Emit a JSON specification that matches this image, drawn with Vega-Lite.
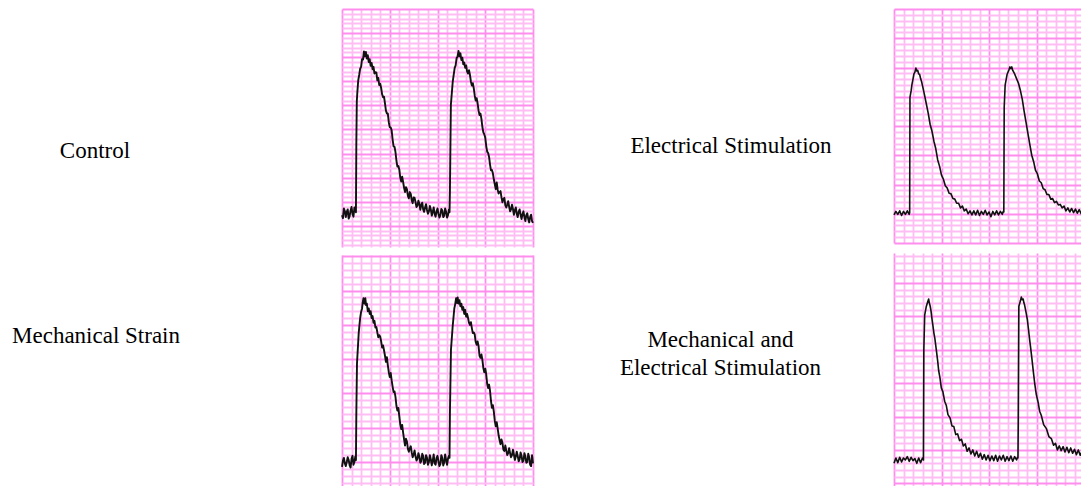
{
"$schema": "https://vega.github.io/schema/vega-lite/v6.json",
"padding": {"left": 0, "top": 9, "right": 0, "bottom": 0},
"background": "white",
"spacing": 0,
"config": {"view": {"stroke": null}},
"datasets": {
"control": [
{"t":0.0,"f":7.2},{"t":0.2,"f":8.6},{"t":0.4,"f":6.8},{"t":0.6,"f":8.4},{"t":0.8,"f":7.0},{"t":1.0,"f":8.9},{"t":1.2,"f":6.9},{"t":1.4,"f":8.3},{"t":1.46,"f":7.8},{"t":1.5,"f":22.0},{"t":1.55,"f":30.8},{"t":1.6,"f":32.5},{"t":1.7,"f":35.2},{"t":1.8,"f":36.3},{"t":1.9,"f":37.6},{"t":2.0,"f":38.0},{"t":2.1,"f":39.6},{"t":2.2,"f":39.5},{"t":2.3,"f":41.2},{"t":2.4,"f":40.2},{"t":2.5,"f":41.1},{"t":2.6,"f":39.7},{"t":2.7,"f":40.4},{"t":2.8,"f":39.0},{"t":2.9,"f":39.6},{"t":3.0,"f":38.2},{"t":3.1,"f":38.8},{"t":3.2,"f":37.5},{"t":3.3,"f":38.0},{"t":3.4,"f":36.6},{"t":3.6,"f":36.8},{"t":3.7,"f":35.2},{"t":3.8,"f":35.7},{"t":3.9,"f":34.2},{"t":4.0,"f":34.5},{"t":4.2,"f":32.3},{"t":4.4,"f":31.8},{"t":4.6,"f":28.9},{"t":4.8,"f":28.3},{"t":5.0,"f":25.5},{"t":5.2,"f":24.8},{"t":5.4,"f":21.5},{"t":5.6,"f":20.3},{"t":5.8,"f":17.3},{"t":6.0,"f":16.7},{"t":6.2,"f":14.2},{"t":6.4,"f":14.1},{"t":6.6,"f":12.0},{"t":6.8,"f":12.6},{"t":7.0,"f":10.7},{"t":7.2,"f":11.6},{"t":7.4,"f":9.7},{"t":7.6,"f":10.8},{"t":7.8,"f":8.9},{"t":8.0,"f":10.2},{"t":8.2,"f":8.3},{"t":8.4,"f":9.8},{"t":8.6,"f":7.9},{"t":8.8,"f":9.5},{"t":9.0,"f":7.5},{"t":9.2,"f":9.1},{"t":9.4,"f":7.1},{"t":9.6,"f":8.8},{"t":9.8,"f":6.9},{"t":10.0,"f":8.6},{"t":10.2,"f":6.7},{"t":10.4,"f":8.5},{"t":10.6,"f":6.8},{"t":10.8,"f":8.6},{"t":11.0,"f":6.7},{"t":11.2,"f":8.4},{"t":11.26,"f":7.8},{"t":11.3,"f":12.0},{"t":11.4,"f":30.1},{"t":11.6,"f":35.0},{"t":11.8,"f":37.8},{"t":11.9,"f":38.3},{"t":12.0,"f":39.8},{"t":12.1,"f":40.1},{"t":12.2,"f":41.3},{"t":12.3,"f":40.2},{"t":12.4,"f":40.8},{"t":12.5,"f":39.4},{"t":12.6,"f":39.9},{"t":12.7,"f":38.5},{"t":12.8,"f":38.9},{"t":12.9,"f":37.8},{"t":13.0,"f":38.3},{"t":13.2,"f":36.6},{"t":13.4,"f":36.3},{"t":13.6,"f":34.1},{"t":13.8,"f":33.5},{"t":14.0,"f":31.0},{"t":14.2,"f":30.4},{"t":14.4,"f":28.0},{"t":14.6,"f":27.2},{"t":14.8,"f":24.4},{"t":15.0,"f":23.3},{"t":15.2,"f":20.4},{"t":15.4,"f":19.3},{"t":15.6,"f":16.5},{"t":15.8,"f":15.9},{"t":16.0,"f":13.6},{"t":16.2,"f":14.0},{"t":16.4,"f":11.7},{"t":16.6,"f":12.2},{"t":16.8,"f":9.9},{"t":17.0,"f":10.8},{"t":17.2,"f":8.8},{"t":17.4,"f":10.1},{"t":17.6,"f":8.0},{"t":17.8,"f":9.4},{"t":18.0,"f":7.3},{"t":18.2,"f":8.8},{"t":18.4,"f":6.8},{"t":18.6,"f":8.4},{"t":18.8,"f":6.4},{"t":19.0,"f":8.0},{"t":19.2,"f":6.0},{"t":19.4,"f":7.6},{"t":19.6,"f":5.7},{"t":19.8,"f":7.3},{"t":20.0,"f":5.6},
{"t":0.1,"f":6.6},{"t":0.3,"f":8.0},{"t":0.5,"f":7.9},{"t":0.7,"f":6.5},{"t":0.9,"f":8.2},{"t":1.1,"f":7.4},{"t":1.3,"f":8.8},
{"t":3.5,"f":36.9},{"t":4.1,"f":33.6},{"t":4.3,"f":31.7},{"t":4.5,"f":30.4},{"t":4.7,"f":28.3},{"t":4.9,"f":26.5},{"t":5.1,"f":25.4},{"t":5.3,"f":22.9},{"t":5.5,"f":21.4},{"t":5.7,"f":18.5},{"t":5.9,"f":17.4},
{"t":6.1,"f":15.0},{"t":6.3,"f":15.2},{"t":6.5,"f":12.9},{"t":6.7,"f":13.0},{"t":6.9,"f":11.2},{"t":7.1,"f":12.0},{"t":7.3,"f":10.3},{"t":7.5,"f":10.9},{"t":7.7,"f":9.9},{"t":7.9,"f":9.2},{"t":8.1,"f":9.6},{"t":8.3,"f":9.3},{"t":8.5,"f":8.4},{"t":8.7,"f":8.8},{"t":8.9,"f":8.3},{"t":9.1,"f":8.0},{"t":9.3,"f":8.4},{"t":9.5,"f":7.9},{"t":9.7,"f":7.4},{"t":9.9,"f":8.0},{"t":10.1,"f":7.5},{"t":10.3,"f":7.2},{"t":10.5,"f":8.2},{"t":10.7,"f":7.1},{"t":10.9,"f":7.9},{"t":11.1,"f":7.2},
{"t":13.1,"f":37.0},{"t":13.3,"f":37.3},{"t":13.5,"f":34.9},{"t":13.7,"f":34.6},{"t":13.9,"f":32.0},{"t":14.1,"f":31.5},{"t":14.3,"f":28.9},{"t":14.5,"f":28.3},{"t":14.7,"f":25.5},{"t":14.9,"f":24.0},{"t":15.1,"f":21.6},{"t":15.3,"f":20.1},{"t":15.5,"f":17.7},{"t":15.7,"f":16.6},{"t":15.9,"f":14.6},
{"t":16.1,"f":12.6},{"t":16.3,"f":12.5},{"t":16.5,"f":12.0},{"t":16.7,"f":10.9},{"t":16.9,"f":10.6},{"t":17.1,"f":9.3},{"t":17.3,"f":9.4},{"t":17.5,"f":9.0},{"t":17.7,"f":8.4},{"t":17.9,"f":8.5},{"t":18.1,"f":8.2},{"t":18.3,"f":7.5},{"t":18.5,"f":7.9},{"t":18.7,"f":7.3},{"t":18.9,"f":7.4},{"t":19.1,"f":6.8},{"t":19.3,"f":7.2},{"t":19.5,"f":6.4},{"t":19.7,"f":6.8},{"t":19.9,"f":6.0}
],
"electrical": [
{"t":0.0,"f":4.8},{"t":0.2,"f":5.4},{"t":0.4,"f":4.9},{"t":0.6,"f":5.5},{"t":0.8,"f":4.7},{"t":1.0,"f":5.4},{"t":1.2,"f":4.9},{"t":1.4,"f":5.5},{"t":1.6,"f":4.9},{"t":1.65,"f":5.2},{"t":1.68,"f":24.9},{"t":1.8,"f":26.0},{"t":1.9,"f":27.2},{"t":2.0,"f":28.0},{"t":2.1,"f":28.9},{"t":2.2,"f":29.2},{"t":2.3,"f":29.9},{"t":2.4,"f":29.4},{"t":2.5,"f":29.5},{"t":2.6,"f":28.9},{"t":2.7,"f":28.8},{"t":2.8,"f":28.1},{"t":2.9,"f":27.6},{"t":3.0,"f":26.9},{"t":3.2,"f":25.4},{"t":3.4,"f":23.8},{"t":3.6,"f":22.2},{"t":3.8,"f":20.3},{"t":4.0,"f":19.1},{"t":4.2,"f":17.4},{"t":4.4,"f":16.1},{"t":4.6,"f":14.2},{"t":4.8,"f":13.1},{"t":5.0,"f":11.6},{"t":5.2,"f":10.9},{"t":5.4,"f":9.8},{"t":5.6,"f":9.4},{"t":5.8,"f":8.5},{"t":6.0,"f":8.4},{"t":6.2,"f":7.6},{"t":6.4,"f":7.5},{"t":6.6,"f":6.8},{"t":6.8,"f":6.8},{"t":7.0,"f":6.0},{"t":7.2,"f":6.3},{"t":7.4,"f":5.5},{"t":7.6,"f":5.8},{"t":7.8,"f":5.0},{"t":8.0,"f":5.5},{"t":8.2,"f":4.8},{"t":8.4,"f":5.5},{"t":8.6,"f":4.8},{"t":8.8,"f":5.6},{"t":9.0,"f":4.7},{"t":9.2,"f":5.4},{"t":9.4,"f":4.9},{"t":9.6,"f":5.6},{"t":9.8,"f":4.8},{"t":10.0,"f":5.3},{"t":10.2,"f":4.5},{"t":10.4,"f":5.4},{"t":10.6,"f":4.8},{"t":10.8,"f":5.5},{"t":11.0,"f":4.8},{"t":11.2,"f":5.4},{"t":11.4,"f":4.9},{"t":11.5,"f":5.4},{"t":11.56,"f":5.3},{"t":11.6,"f":23.2},{"t":11.7,"f":27.0},{"t":11.9,"f":28.8},{"t":12.1,"f":29.6},{"t":12.2,"f":30.1},{"t":12.3,"f":29.8},{"t":12.4,"f":30.1},{"t":12.5,"f":29.5},{"t":12.7,"f":28.9},{"t":12.9,"f":28.1},{"t":13.1,"f":27.3},{"t":13.3,"f":26.1},{"t":13.5,"f":24.6},{"t":13.7,"f":22.5},{"t":13.9,"f":20.6},{"t":14.1,"f":18.7},{"t":14.3,"f":16.8},{"t":14.5,"f":15.0},{"t":14.7,"f":13.9},{"t":14.9,"f":12.4},{"t":15.1,"f":11.8},{"t":15.3,"f":10.6},{"t":15.5,"f":10.3},{"t":15.7,"f":9.3},{"t":15.9,"f":9.1},{"t":16.1,"f":8.3},{"t":16.3,"f":8.3},{"t":16.5,"f":7.5},{"t":16.7,"f":7.6},{"t":16.9,"f":6.9},{"t":17.1,"f":7.1},{"t":17.3,"f":6.5},{"t":17.5,"f":6.6},{"t":17.7,"f":6.0},{"t":17.9,"f":6.3},{"t":18.1,"f":5.5},{"t":18.3,"f":6.0},{"t":18.5,"f":5.3},{"t":18.7,"f":5.9},{"t":18.9,"f":5.2},{"t":19.1,"f":5.8},{"t":19.3,"f":5.1},{"t":19.5,"f":5.7},{"t":19.7,"f":5.0},{"t":19.9,"f":5.5},{"t":20.0,"f":5.0}
],
"mechanical": [
{"t":0.0,"f":4.3},{"t":0.2,"f":5.6},{"t":0.4,"f":4.4},{"t":0.6,"f":5.7},{"t":0.8,"f":4.5},{"t":1.0,"f":5.5},{"t":1.2,"f":4.6},{"t":1.4,"f":5.8},{"t":1.46,"f":5.3},{"t":1.5,"f":12.0},{"t":1.57,"f":19.4},{"t":1.75,"f":23.8},{"t":1.85,"f":25.3},{"t":1.92,"f":26.2},{"t":2.0,"f":26.9},{"t":2.1,"f":27.4},{"t":2.16,"f":28.2},{"t":2.25,"f":28.9},{"t":2.35,"f":28.1},{"t":2.44,"f":28.9},{"t":2.52,"f":27.9},{"t":2.6,"f":28.1},{"t":2.7,"f":27.0},{"t":2.8,"f":27.4},{"t":2.9,"f":26.6},{"t":3.0,"f":27.0},{"t":3.1,"f":26.0},{"t":3.2,"f":26.3},{"t":3.3,"f":25.3},{"t":3.4,"f":25.6},{"t":3.5,"f":24.6},{"t":3.6,"f":24.7},{"t":3.8,"f":23.2},{"t":4.0,"f":23.3},{"t":4.2,"f":21.7},{"t":4.4,"f":21.3},{"t":4.6,"f":19.6},{"t":4.8,"f":19.1},{"t":5.0,"f":17.4},{"t":5.2,"f":16.9},{"t":5.4,"f":15.2},{"t":5.6,"f":14.5},{"t":5.8,"f":12.5},{"t":6.0,"f":11.7},{"t":6.2,"f":9.8},{"t":6.4,"f":9.3},{"t":6.6,"f":7.4},{"t":6.8,"f":8.0},{"t":7.0,"f":6.5},{"t":7.2,"f":7.3},{"t":7.4,"f":5.7},{"t":7.6,"f":6.7},{"t":7.8,"f":5.2},{"t":8.0,"f":6.3},{"t":8.2,"f":4.9},{"t":8.4,"f":6.2},{"t":8.6,"f":4.7},{"t":8.8,"f":6.0},{"t":9.0,"f":4.6},{"t":9.2,"f":6.0},{"t":9.4,"f":4.5},{"t":9.6,"f":6.1},{"t":9.8,"f":4.6},{"t":10.0,"f":5.9},{"t":10.2,"f":4.4},{"t":10.4,"f":6.0},{"t":10.6,"f":4.5},{"t":10.8,"f":6.1},{"t":11.0,"f":4.6},{"t":11.2,"f":5.9},{"t":11.26,"f":5.6},{"t":11.3,"f":12.0},{"t":11.41,"f":21.4},{"t":11.59,"f":24.8},{"t":11.76,"f":27.4},{"t":11.85,"f":28.0},{"t":11.95,"f":28.9},{"t":12.05,"f":28.2},{"t":12.11,"f":29.0},{"t":12.2,"f":28.1},{"t":12.3,"f":28.6},{"t":12.4,"f":27.7},{"t":12.5,"f":28.1},{"t":12.6,"f":27.2},{"t":12.7,"f":27.6},{"t":12.8,"f":26.6},{"t":12.9,"f":27.2},{"t":13.0,"f":26.2},{"t":13.1,"f":26.6},{"t":13.3,"f":25.3},{"t":13.5,"f":25.4},{"t":13.7,"f":23.8},{"t":13.9,"f":23.6},{"t":14.1,"f":22.1},{"t":14.3,"f":21.9},{"t":14.5,"f":20.2},{"t":14.7,"f":19.9},{"t":14.9,"f":18.1},{"t":15.1,"f":17.8},{"t":15.3,"f":15.8},{"t":15.5,"f":15.4},{"t":15.7,"f":12.9},{"t":15.9,"f":12.3},{"t":16.1,"f":10.2},{"t":16.3,"f":9.9},{"t":16.5,"f":8.2},{"t":16.7,"f":8.3},{"t":16.9,"f":6.8},{"t":17.1,"f":7.4},{"t":17.3,"f":6.0},{"t":17.5,"f":7.0},{"t":17.7,"f":5.7},{"t":17.9,"f":6.8},{"t":18.1,"f":5.3},{"t":18.3,"f":6.5},{"t":18.5,"f":5.1},{"t":18.7,"f":6.4},{"t":18.9,"f":5.0},{"t":19.1,"f":6.3},{"t":19.3,"f":4.9},{"t":19.5,"f":6.2},{"t":19.7,"f":4.6},{"t":19.9,"f":6.0},{"t":20.0,"f":4.8},
{"t":0.1,"f":5.2},{"t":0.3,"f":4.8},{"t":0.5,"f":5.0},{"t":0.7,"f":5.3},{"t":0.9,"f":4.2},{"t":1.1,"f":5.9},{"t":1.3,"f":5.0},
{"t":3.7,"f":23.9},{"t":3.9,"f":23.5},{"t":4.1,"f":22.6},{"t":4.3,"f":22.0},{"t":4.5,"f":20.5},{"t":4.7,"f":20.3},{"t":4.9,"f":18.1},{"t":5.1,"f":18.0},{"t":5.3,"f":16.0},{"t":5.5,"f":15.3},{"t":5.7,"f":13.2},{"t":5.9,"f":12.9},{"t":6.1,"f":10.5},{"t":6.3,"f":10.4},{"t":6.5,"f":8.3},{"t":6.7,"f":8.4},{"t":6.9,"f":6.9},
{"t":7.1,"f":7.0},{"t":7.3,"f":6.4},{"t":7.5,"f":6.1},{"t":7.7,"f":5.8},{"t":7.9,"f":5.5},{"t":8.1,"f":5.8},{"t":8.3,"f":5.1},{"t":8.5,"f":5.9},{"t":8.7,"f":4.9},{"t":8.9,"f":5.6},{"t":9.1,"f":5.0},{"t":9.3,"f":5.4},{"t":9.5,"f":5.2},{"t":9.7,"f":4.8},{"t":9.9,"f":5.6},{"t":10.1,"f":5.1},{"t":10.3,"f":4.7},{"t":10.5,"f":5.6},{"t":10.7,"f":4.9},{"t":10.9,"f":5.3},{"t":11.1,"f":5.5},
{"t":13.2,"f":26.0},{"t":13.4,"f":25.0},{"t":13.6,"f":24.5},{"t":13.8,"f":23.9},{"t":14.0,"f":22.5},{"t":14.2,"f":22.6},{"t":14.4,"f":20.5},{"t":14.6,"f":20.7},{"t":14.8,"f":18.7},{"t":15.0,"f":18.6},{"t":15.2,"f":16.4},{"t":15.4,"f":16.3},{"t":15.6,"f":13.9},{"t":15.8,"f":13.3},{"t":16.0,"f":11.0},{"t":16.2,"f":10.8},
{"t":16.4,"f":8.9},{"t":16.6,"f":7.6},{"t":16.8,"f":7.8},{"t":17.0,"f":6.6},{"t":17.2,"f":6.7},{"t":17.4,"f":6.3},{"t":17.6,"f":6.3},{"t":17.8,"f":6.0},{"t":18.0,"f":6.1},{"t":18.2,"f":5.8},{"t":18.4,"f":5.9},{"t":18.6,"f":5.4},{"t":18.8,"f":5.9},{"t":19.0,"f":5.2},{"t":19.2,"f":5.8},{"t":19.4,"f":5.0},{"t":19.6,"f":5.7},{"t":19.8,"f":4.4}
],
"mechelec": [
{"t":0.0,"f":3.0},{"t":0.2,"f":3.8},{"t":0.4,"f":3.1},{"t":0.6,"f":3.9},{"t":0.8,"f":3.2},{"t":1.0,"f":3.8},{"t":1.2,"f":3.5},{"t":1.4,"f":4.0},{"t":1.6,"f":3.3},{"t":1.8,"f":3.9},{"t":2.0,"f":3.4},{"t":2.2,"f":3.7},{"t":2.4,"f":3.0},{"t":2.6,"f":3.8},{"t":2.8,"f":3.1},{"t":3.0,"f":3.8},{"t":3.1,"f":3.5},{"t":3.14,"f":20.0},{"t":3.23,"f":25.2},{"t":3.4,"f":26.5},{"t":3.55,"f":27.2},{"t":3.65,"f":27.6},{"t":3.72,"f":27.0},{"t":3.8,"f":26.6},{"t":3.9,"f":25.8},{"t":4.0,"f":24.6},{"t":4.1,"f":23.6},{"t":4.2,"f":22.5},{"t":4.3,"f":21.7},{"t":4.46,"f":19.9},{"t":4.6,"f":18.3},{"t":4.7,"f":16.9},{"t":4.84,"f":15.8},{"t":4.98,"f":14.3},{"t":5.15,"f":13.7},{"t":5.33,"f":12.3},{"t":5.5,"f":11.7},{"t":5.68,"f":10.3},{"t":5.9,"f":9.8},{"t":6.1,"f":8.6},{"t":6.3,"f":8.5},{"t":6.5,"f":7.3},{"t":6.7,"f":7.4},{"t":6.9,"f":6.4},{"t":7.1,"f":6.6},{"t":7.3,"f":5.6},{"t":7.5,"f":5.9},{"t":7.7,"f":4.8},{"t":7.9,"f":5.3},{"t":8.1,"f":4.4},{"t":8.3,"f":5.0},{"t":8.5,"f":4.1},{"t":8.7,"f":4.8},{"t":8.9,"f":3.9},{"t":9.1,"f":4.5},{"t":9.3,"f":3.6},{"t":9.5,"f":4.3},{"t":9.7,"f":3.5},{"t":9.9,"f":4.2},{"t":10.1,"f":3.4},{"t":10.3,"f":4.1},{"t":10.5,"f":3.4},{"t":10.7,"f":4.2},{"t":10.9,"f":3.3},{"t":11.1,"f":4.1},{"t":11.3,"f":3.5},{"t":11.5,"f":4.2},{"t":11.7,"f":3.3},{"t":11.9,"f":4.0},{"t":12.1,"f":3.4},{"t":12.3,"f":4.1},{"t":12.5,"f":3.3},{"t":12.7,"f":4.0},{"t":12.9,"f":3.5},{"t":13.0,"f":3.9},{"t":13.05,"f":3.8},{"t":13.08,"f":9.2},{"t":13.14,"f":26.5},{"t":13.3,"f":27.3},{"t":13.4,"f":27.9},{"t":13.5,"f":27.5},{"t":13.6,"f":27.6},{"t":13.68,"f":27.0},{"t":13.75,"f":26.7},{"t":13.9,"f":25.6},{"t":14.04,"f":24.5},{"t":14.16,"f":23.0},{"t":14.28,"f":21.5},{"t":14.4,"f":20.1},{"t":14.53,"f":18.5},{"t":14.66,"f":16.8},{"t":14.8,"f":15.1},{"t":14.98,"f":13.3},{"t":15.16,"f":12.2},{"t":15.33,"f":10.8},{"t":15.5,"f":10.2},{"t":15.75,"f":8.8},{"t":16.04,"f":8.2},{"t":16.3,"f":7.0},{"t":16.56,"f":6.7},{"t":16.8,"f":5.7},{"t":17.0,"f":6.0},{"t":17.2,"f":5.0},{"t":17.4,"f":5.6},{"t":17.6,"f":4.9},{"t":17.8,"f":5.5},{"t":18.0,"f":4.7},{"t":18.2,"f":5.4},{"t":18.4,"f":4.6},{"t":18.6,"f":5.3},{"t":18.8,"f":4.5},{"t":19.0,"f":5.1},{"t":19.2,"f":4.3},{"t":19.4,"f":5.0},{"t":19.6,"f":4.2},{"t":19.8,"f":4.8},{"t":20.0,"f":4.2}
]
},
"hconcat": [
{
"vconcat": [
{"width": 341, "height": 238, "data": {"values": [{"label": "Control"}]}, "mark": {"type": "text", "font": "Liberation Serif", "fontSize": 23, "align": "center", "baseline": "alphabetic", "dx": -75.5, "dy": 30, "color": "black"}, "encoding": {"text": {"field": "label", "type": "nominal"}}},
{"width": 341, "height": 231, "data": {"values": [{"label": "Mechanical Strain"}]}, "mark": {"type": "text", "font": "Liberation Serif", "fontSize": 23, "align": "center", "baseline": "alphabetic", "dx": -74.5, "dy": -27.5, "color": "black"}, "encoding": {"text": {"field": "label", "type": "nominal"}}}
],
"spacing": 8, "bounds": "flush"
},
{
"vconcat": [
{"width": 191, "height": 238, "data": {"name": "control"},
"layer": [
{"mark": {"type": "line", "strokeOpacity": 0},
"encoding": {
"x": {"field": "t", "type": "quantitative", "scale": {"domain": [0, 20], "nice": false, "zero": false}, "axis": {"title": null, "labels": false, "ticks": false, "domain": false, "grid": true, "gridColor": "#ffbdf3", "gridWidth": 1.8, "gridOpacity": 1, "values": [1,2,3,4,6,7,8,9,11,12,13,14,16,17,18,19]}},
"y": {"field": "f", "type": "quantitative", "scale": {"domain": [0.6, 50], "nice": false, "zero": false}, "axis": {"title": null, "labels": false, "ticks": false, "domain": false, "grid": true, "gridColor": "#ffbdf3", "gridWidth": 1.8, "gridOpacity": 1, "values": [1,2,3,4,6,7,8,9,11,12,13,14,16,17,18,19,21,22,23,24,26,27,28,29,31,32,33,34,36,37,38,39,41,42,43,44,46,47,48,49]}}
}},
{"mark": {"type": "line", "color": "#111111", "strokeWidth": 1.9, "strokeJoin": "round"},
"encoding": {
"x": {"field": "t", "type": "quantitative", "axis": {"title": null, "labels": false, "ticks": false, "domain": false, "grid": true, "gridColor": "#ff8ded", "gridWidth": 1.8, "gridOpacity": 1, "values": [0,5,10,15,20]}},
"y": {"field": "f", "type": "quantitative", "axis": {"title": null, "labels": false, "ticks": false, "domain": false, "grid": true, "gridColor": "#ff8ded", "gridWidth": 1.8, "gridOpacity": 1, "values": [5,10,15,20,25,30,35,40,45,50]}}
}}
],
"resolve": {"axis": {"x": "independent", "y": "independent"}}
},
{"width": 191, "height": 231, "data": {"name": "mechanical"},
"layer": [
{"mark": {"type": "line", "strokeOpacity": 0},
"encoding": {
"x": {"field": "t", "type": "quantitative", "scale": {"domain": [0, 20], "nice": false, "zero": false}, "axis": {"title": null, "labels": false, "ticks": false, "domain": false, "grid": true, "gridColor": "#ffbdf3", "gridWidth": 1.8, "gridOpacity": 1, "values": [1,2,3,4,6,7,8,9,11,12,13,14,16,17,18,19]}},
"y": {"field": "f", "type": "quantitative", "scale": {"domain": [1.5, 35.2], "nice": false, "zero": false}, "axis": {"title": null, "labels": false, "ticks": false, "domain": false, "grid": true, "gridColor": "#ffbdf3", "gridWidth": 1.8, "gridOpacity": 1, "values": [2,3,4,6,7,8,9,11,12,13,14,16,17,18,19,21,22,23,24,26,27,28,29,31,32,33,34]}}
}},
{"mark": {"type": "line", "color": "#111111", "strokeWidth": 1.9, "strokeJoin": "round"},
"encoding": {
"x": {"field": "t", "type": "quantitative", "axis": {"title": null, "labels": false, "ticks": false, "domain": false, "grid": true, "gridColor": "#ff8ded", "gridWidth": 1.8, "gridOpacity": 1, "values": [0,5,10,15,20]}},
"y": {"field": "f", "type": "quantitative", "axis": {"title": null, "labels": false, "ticks": false, "domain": false, "grid": true, "gridColor": "#ff8ded", "gridWidth": 1.8, "gridOpacity": 1, "values": [5,10,15,20,25,30,35]}}
}}
],
"resolve": {"axis": {"x": "independent", "y": "independent"}}
}
],
"spacing": 8, "bounds": "flush"
},
{
"vconcat": [
{"width": 359, "height": 234, "data": {"values": [{"label": "Electrical Stimulation"}]}, "mark": {"type": "text", "font": "Liberation Serif", "fontSize": 23, "align": "center", "baseline": "alphabetic", "dx": 17.5, "dy": 27, "color": "black"}, "encoding": {"text": {"field": "label", "type": "nominal"}}},
{"width": 359, "height": 233, "data": {"values": [{"label": "Mechanical and\nElectrical Stimulation"}]}, "mark": {"type": "text", "font": "Liberation Serif", "fontSize": 23, "align": "center", "baseline": "alphabetic", "lineBreak": "\n", "lineHeight": 27.5, "dx": 7, "dy": -22.5, "color": "black"}, "encoding": {"text": {"field": "label", "type": "nominal"}}}
],
"spacing": 10, "bounds": "flush"
},
{
"vconcat": [
{"width": 190, "height": 234, "data": {"name": "electrical"},
"layer": [
{"mark": {"type": "line", "strokeOpacity": 0},
"encoding": {
"x": {"field": "t", "type": "quantitative", "scale": {"domain": [0, 20], "nice": false, "zero": false}, "axis": {"title": null, "labels": false, "ticks": false, "domain": false, "grid": true, "gridColor": "#ffbdf3", "gridWidth": 1.8, "gridOpacity": 1, "values": [1,2,3,4,6,7,8,9,11,12,13,14,16,17,18,19]}},
"y": {"field": "f", "type": "quantitative", "scale": {"domain": [0, 40], "nice": false, "zero": false}, "axis": {"title": null, "labels": false, "ticks": false, "domain": false, "grid": true, "gridColor": "#ffbdf3", "gridWidth": 1.8, "gridOpacity": 1, "values": [1,2,3,4,6,7,8,9,11,12,13,14,16,17,18,19,21,22,23,24,26,27,28,29,31,32,33,34,36,37,38,39]}}
}},
{"mark": {"type": "line", "color": "#111111", "strokeWidth": 1.6, "strokeJoin": "round"},
"encoding": {
"x": {"field": "t", "type": "quantitative", "axis": {"title": null, "labels": false, "ticks": false, "domain": false, "grid": true, "gridColor": "#ff8ded", "gridWidth": 1.8, "gridOpacity": 1, "values": [0,5,10,15,20]}},
"y": {"field": "f", "type": "quantitative", "axis": {"title": null, "labels": false, "ticks": false, "domain": false, "grid": true, "gridColor": "#ff8ded", "gridWidth": 1.8, "gridOpacity": 1, "values": [0,5,10,15,20,25,30,35,40]}}
}}
],
"resolve": {"axis": {"x": "independent", "y": "independent"}}
},
{"width": 190, "height": 233, "data": {"name": "mechelec"},
"layer": [
{"mark": {"type": "line", "strokeOpacity": 0},
"encoding": {
"x": {"field": "t", "type": "quantitative", "scale": {"domain": [0, 20], "nice": false, "zero": false}, "axis": {"title": null, "labels": false, "ticks": false, "domain": false, "grid": true, "gridColor": "#ffbdf3", "gridWidth": 1.8, "gridOpacity": 1, "values": [1,2,3,4,6,7,8,9,11,12,13,14,16,17,18,19]}},
"y": {"field": "f", "type": "quantitative", "scale": {"domain": [-0.4, 34.5], "nice": false, "zero": false}, "axis": {"title": null, "labels": false, "ticks": false, "domain": false, "grid": true, "gridColor": "#ffbdf3", "gridWidth": 1.8, "gridOpacity": 1, "values": [1,2,3,4,6,7,8,9,11,12,13,14,16,17,18,19,21,22,23,24,26,27,28,29,31,32,33,34]}}
}},
{"mark": {"type": "line", "color": "#111111", "strokeWidth": 1.6, "strokeJoin": "round"},
"encoding": {
"x": {"field": "t", "type": "quantitative", "axis": {"title": null, "labels": false, "ticks": false, "domain": false, "grid": true, "gridColor": "#ff8ded", "gridWidth": 1.8, "gridOpacity": 1, "values": [0,5,10,15,20]}},
"y": {"field": "f", "type": "quantitative", "axis": {"title": null, "labels": false, "ticks": false, "domain": false, "grid": true, "gridColor": "#ff8ded", "gridWidth": 1.8, "gridOpacity": 1, "values": [0,5,10,15,20,25,30]}}
}}
],
"resolve": {"axis": {"x": "independent", "y": "independent"}}
}
],
"spacing": 10, "bounds": "flush"
}
]
}
